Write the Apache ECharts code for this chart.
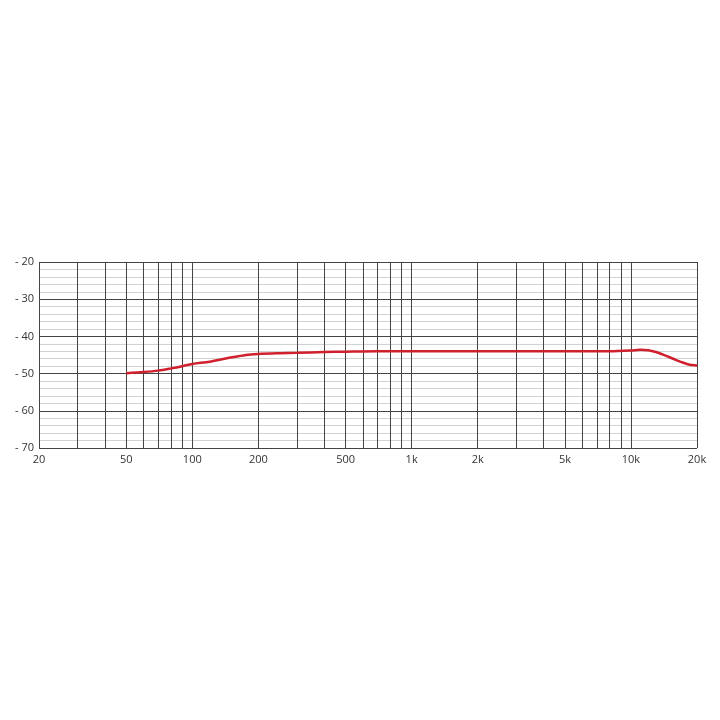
<!DOCTYPE html>
<html>
<head>
<meta charset="utf-8">
<script src="https://cdn.jsdelivr.net/npm/echarts@6/dist/echarts.min.js"></script>
<style>
html,body{margin:0;padding:0;background:#fff;}
#chart{width:720px;height:720px;}
</style>
</head>
<body>
<div id="chart"></div>
<script>
// Frequency response data (Hz, dB)
var freqs = [50, 60, 70, 80, 90, 100, 120, 140, 160, 180, 200, 250, 300, 400, 500, 700, 1000, 2000, 5000, 8000, 10000, 11000, 12000, 13000, 14000, 15000, 16000, 17000, 18000, 19000, 20000];
var levels = [-49.9, -49.6, -49.2, -48.6, -48.0, -47.4, -46.8, -46.0, -45.4, -44.95, -44.7, -44.5, -44.4, -44.2, -44.1, -44.0, -44.0, -44.0, -44.0, -44.0, -43.8, -43.6, -43.7, -44.2, -44.9, -45.6, -46.3, -46.9, -47.4, -47.7, -47.8];
// Vertical grid frequencies
var gridFreqs = [20, 30, 40, 50, 60, 70, 80, 90, 100, 200, 300, 400, 500, 600, 700, 800, 900, 1000, 2000, 3000, 4000, 5000, 6000, 7000, 8000, 9000, 10000, 20000];
// X tick label values and texts
var xTickValues = [20, 50, 100, 200, 500, 1000, 2000, 5000, 10000, 20000];
var xTickTexts = ['20', '50', '100', '200', '500', '1k', '2k', '5k', '10k', '20k'];

var chart = echarts.init(document.getElementById('chart'));
var pts = freqs.map(function (f, i) { return [f, levels[i]]; });
var labelMap = {};
xTickValues.forEach(function (v, i) { labelMap[v] = xTickTexts[i]; });

chart.setOption({
  animation: false,
  backgroundColor: '#fff',
  grid: { left: 39, right: 23, top: 262, bottom: 272, containLabel: false },
  xAxis: {
    type: 'log',
    logBase: 10,
    min: 20,
    max: 20000,
    axisLine: { show: false },
    axisTick: { show: false },
    splitLine: { show: false },
    axisLabel: {
      customValues: xTickValues,
      formatter: function (v) {
        var r = Math.round(v);
        return labelMap[r] !== undefined ? labelMap[r] : '';
      },
      color: '#333',
      fontFamily: 'Open Sans',
      fontSize: 11,
      margin: 6,
      showMinLabel: true,
      showMaxLabel: true
    }
  },
  yAxis: {
    type: 'value',
    min: -70,
    max: -20,
    interval: 10,
    axisLine: { show: false },
    axisTick: { show: false },
    axisLabel: {
      formatter: function (v) { return '- ' + Math.abs(v); },
      color: '#333',
      fontFamily: 'Open Sans',
      fontSize: 11,
      margin: 5
    },
    splitLine: { show: true, lineStyle: { color: '#444', width: 1 } },
    minorTick: { show: false, splitNumber: 5 },
    minorSplitLine: { show: true, lineStyle: { color: '#d2d2d2', width: 1 } }
  },
  series: [{
    type: 'line',
    data: pts,
    smooth: 0.3,
    showSymbol: false,
    lineStyle: { color: '#d0202e', width: 2.5 },
    z: 5,
    markLine: {
      silent: true,
      symbol: 'none',
      label: { show: false },
      lineStyle: { color: '#444', width: 1, type: 'solid' },
      z: 1,
      data: gridFreqs.map(function (f) { return { xAxis: f }; })
    }
  }]
});
</script>
</body>
</html>
